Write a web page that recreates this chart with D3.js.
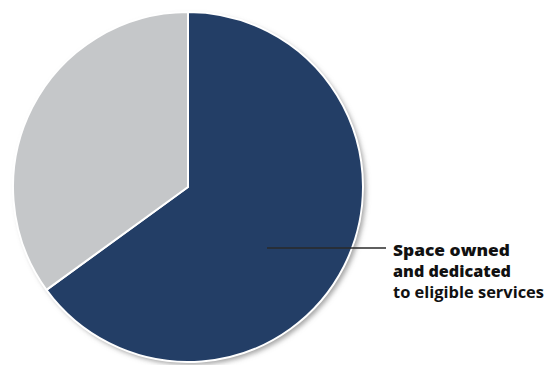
<!DOCTYPE html>
<html>
<head>
<meta charset="utf-8">
<script src="https://cdn.jsdelivr.net/npm/d3@7"></script>
<style>
  html, body { margin: 0; padding: 0; background: #ffffff; }
  svg { display: block; }
</style>
</head>
<body>
<svg id="chart" width="559" height="365"></svg>
<script>
// Share of space, in percent
const categories = ["Space owned and dedicated to eligible services", "Other space"];
const shares = [65, 35];
const colors = ["#233e66", "#c5c7c9"];
const labelLines = ["Space owned", "and dedicated", "to eligible services"];
const labelWidths = [117, 118, 151];
const labelWeights = [800, 800, 700];

const svg = d3.select("#chart");
const cx = 188, cy = 187, radius = 175;

const defs = svg.append("defs");
const shadow = defs.append("filter").attr("id", "pieShadow")
  .attr("x", "-10%").attr("y", "-10%").attr("width", "125%").attr("height", "125%");
shadow.append("feDropShadow")
  .attr("dx", 3).attr("dy", 3).attr("stdDeviation", 2.5)
  .attr("flood-color", "#7d7d7d").attr("flood-opacity", 0.7);

const pie = d3.pie().sort(null).value(d => d.value);
const arc = d3.arc().innerRadius(0).outerRadius(radius);
const data = categories.map((c, i) => ({ name: c, value: shares[i], color: colors[i] }));

const g = svg.append("g").attr("transform", `translate(${cx},${cy})`);

// Shadowed disc underneath the slices
g.append("circle").attr("r", radius).attr("fill", "#ffffff").attr("filter", "url(#pieShadow)");

g.selectAll("path.slice")
  .data(pie(data))
  .join("path")
  .attr("class", "slice")
  .attr("d", arc)
  .attr("fill", d => d.data.color)
  .attr("stroke", "#ffffff")
  .attr("stroke-width", 2)
  .attr("stroke-linejoin", "round");

// Leader line from the dark slice to its label
const labelX = 393;
const lineY = 248;
svg.append("line")
  .attr("x1", 267).attr("x2", 386)
  .attr("y1", lineY).attr("y2", lineY)
  .attr("stroke", "#2a2a2a").attr("stroke-width", 1.3);

const label = svg.append("g");
labelLines.forEach((t, i) => {
  label.append("text")
    .attr("x", labelX)
    .attr("y", 256 + i * 21)
    .attr("font-family", "'Open Sans', 'DejaVu Sans', sans-serif")
    .attr("font-weight", labelWeights[i])
    .attr("font-size", 16.5)
    .attr("fill", "#111111")
    .attr("textLength", labelWidths[i])
    .attr("lengthAdjust", "spacingAndGlyphs")
    .text(t);
});
</script>
</body>
</html>
